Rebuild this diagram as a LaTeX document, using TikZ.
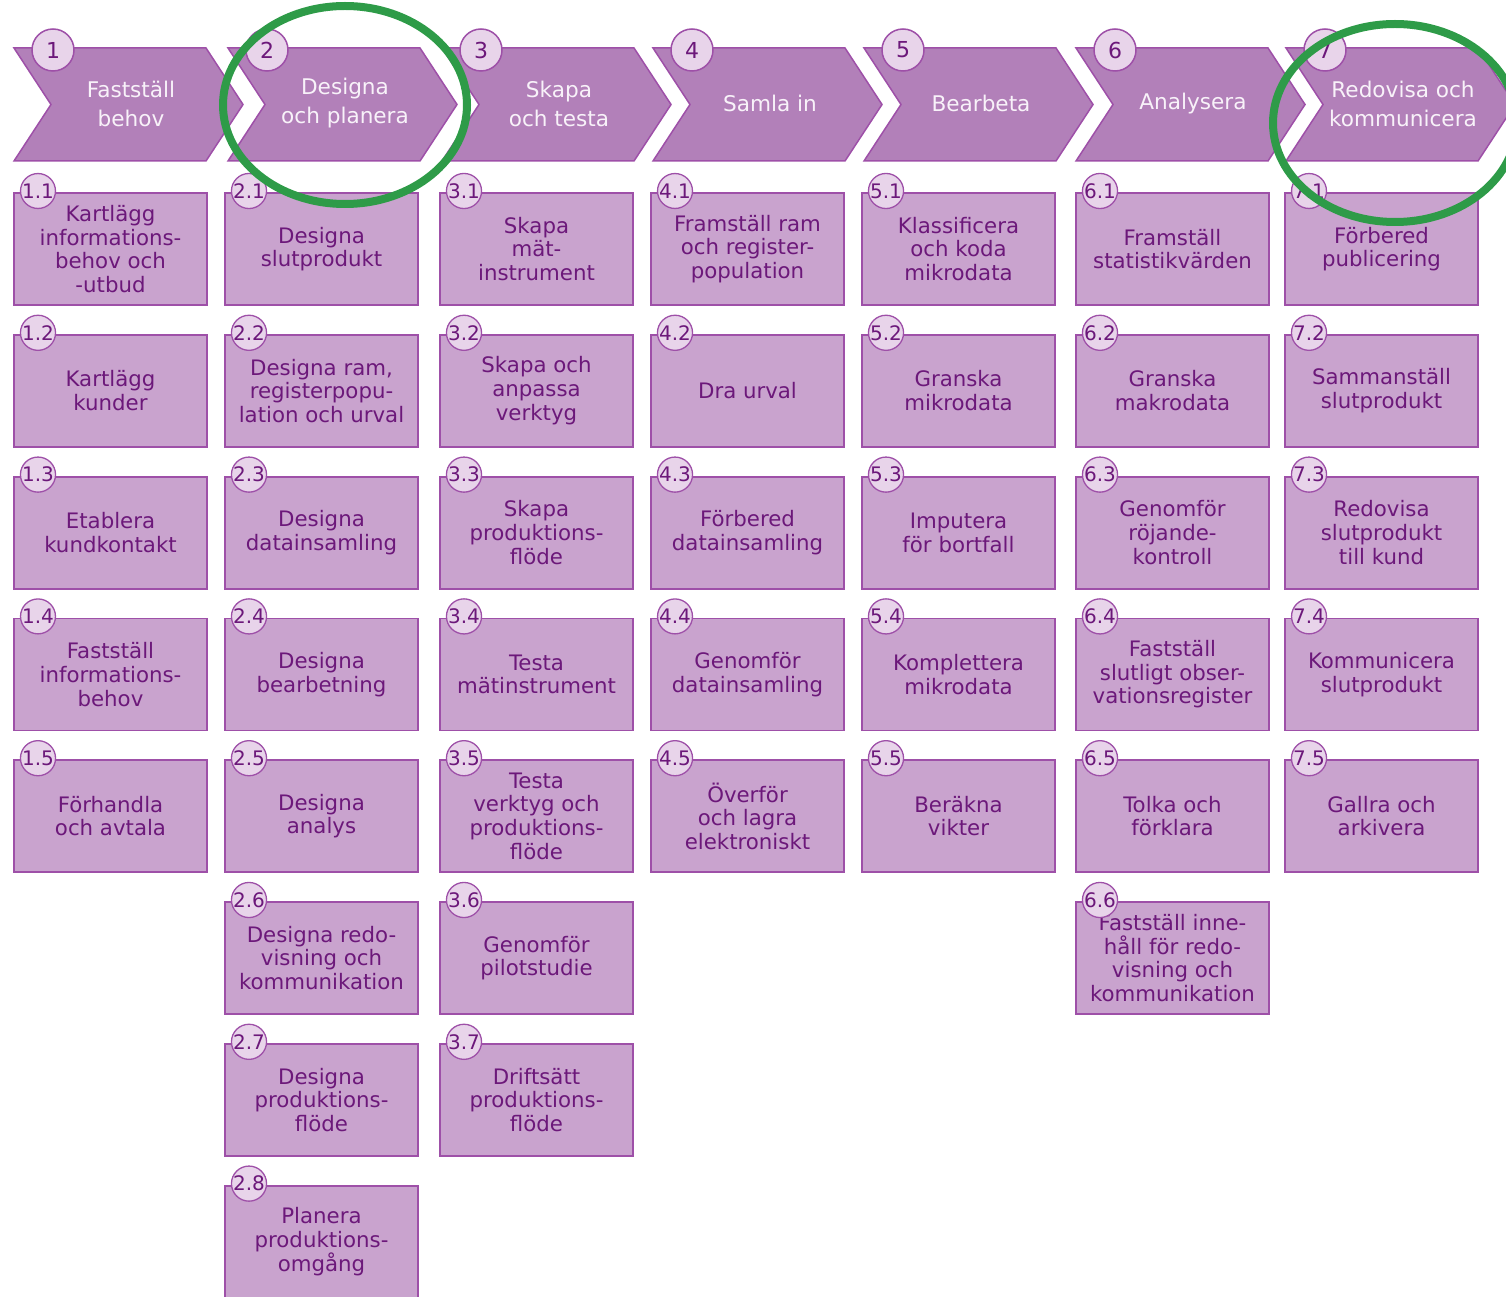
\documentclass[tikz,border=0pt]{standalone}
\usepackage{fontspec}
\setmainfont{DejaVu Sans}
\definecolor{chev}{RGB}{178,128,185}
\definecolor{boxf}{RGB}{201,163,206}
\definecolor{edgec}{RGB}{158,80,168}
\definecolor{txt}{RGB}{108,24,122}
\definecolor{circf}{RGB}{232,212,234}
\definecolor{chevtxt}{RGB}{248,242,249}
\definecolor{grn}{RGB}{46,155,72}
\tikzset{
  chevstyle/.style={fill=chev, draw=edgec, line width=1.5pt, line join=miter},
  chevtext/.style={text=chevtxt, align=center, font=\fontsize{21.6}{29}\selectfont},
  taskbox/.style={fill=boxf, draw=edgec, line width=1.8pt, minimum width=193pt, minimum height=112pt, inner sep=0pt, align=center, text=txt, font=\fontsize{21.3}{23.7}\selectfont},
  numc/.style={circle, fill=circf, draw=edgec, line width=1.5pt, minimum size=42pt, inner sep=0pt, text=txt, font=\fontsize{22}{22}\selectfont},
  subc/.style={circle, fill=circf, draw=edgec, line width=1.3pt, minimum size=34pt, inner sep=0pt, text=txt, font=\fontsize{20}{20}\selectfont},
  hilite/.style={draw=grn, line width=8pt}
}
\newcommand\mkchev[4]{%
  \draw[chevstyle] (#1,48) -- ++(192,0) -- ++(37,56.5) -- ++(-37,56.5) -- ++(-192,0) -- ++(37,-56.5) -- cycle;
  \node[chevtext] (t#2) at ({#1+117},103.5) {#4};
  \node[numc] (n#2) at ({#1+39},50) {#3};}
\newcommand\mkbox[5]{%
  \node[taskbox] (b#3) at ({#1+96.5},{193+141.8*#2+56}) {#5};
  \node[subc] (c#3) at ({#1+24},{193+141.8*#2-2}) {#4};}
\begin{document}
\begin{tikzpicture}[x=1pt,y=-1pt]
\useasboundingbox (0,0) rectangle (1506,1297);
\clip (0,0) rectangle (1506,1297);
% chevrons
\mkchev{14}{1}{1}{Fastställ\\behov}
\mkchev{228}{2}{2}{Designa\\och planera}
\mkchev{442}{3}{3}{Skapa\\och testa}
\mkchev{653}{4}{4}{Samla in}
\mkchev{864}{5}{5}{Bearbeta}
\mkchev{1076}{6}{6}{Analysera}
\mkchev{1286}{7}{7}{Redovisa och\\kommunicera}
% column 1
\mkbox{14}{0}{11}{1.1}{Kartlägg\\informations-\\behov och\\-utbud}
\mkbox{14}{1}{12}{1.2}{Kartlägg\\kunder}
\mkbox{14}{2}{13}{1.3}{Etablera\\kundkontakt}
\mkbox{14}{3}{14}{1.4}{Fastställ\\informations-\\behov}
\mkbox{14}{4}{15}{1.5}{Förhandla\\och avtala}
% column 2
\mkbox{225}{0}{21}{2.1}{Designa\\slutprodukt}
\mkbox{225}{1}{22}{2.2}{Designa ram,\\registerpopu-\\lation och urval}
\mkbox{225}{2}{23}{2.3}{Designa\\datainsamling}
\mkbox{225}{3}{24}{2.4}{Designa\\bearbetning}
\mkbox{225}{4}{25}{2.5}{Designa\\analys}
\mkbox{225}{5}{26}{2.6}{Designa redo-\\visning och\\kommunikation}
\mkbox{225}{6}{27}{2.7}{Designa\\produktions-\\flöde}
\mkbox{225}{7}{28}{2.8}{Planera\\produktions-\\omgång}
% column 3
\mkbox{440}{0}{31}{3.1}{Skapa\\mät-\\instrument}
\mkbox{440}{1}{32}{3.2}{Skapa och\\anpassa\\verktyg}
\mkbox{440}{2}{33}{3.3}{Skapa\\produktions-\\flöde}
\mkbox{440}{3}{34}{3.4}{Testa\\mätinstrument}
\mkbox{440}{4}{35}{3.5}{Testa\\verktyg och\\produktions-\\flöde}
\mkbox{440}{5}{36}{3.6}{Genomför\\pilotstudie}
\mkbox{440}{6}{37}{3.7}{Driftsätt\\produktions-\\flöde}
% column 4
\mkbox{651}{0}{41}{4.1}{Framställ ram\\och register-\\population}
\mkbox{651}{1}{42}{4.2}{Dra urval}
\mkbox{651}{2}{43}{4.3}{Förbered\\datainsamling}
\mkbox{651}{3}{44}{4.4}{Genomför\\datainsamling}
\mkbox{651}{4}{45}{4.5}{Överför\\och lagra\\elektroniskt}
% column 5
\mkbox{862}{0}{51}{5.1}{Klassificera\\och koda\\mikrodata}
\mkbox{862}{1}{52}{5.2}{Granska\\mikrodata}
\mkbox{862}{2}{53}{5.3}{Imputera\\för bortfall}
\mkbox{862}{3}{54}{5.4}{Komplettera\\mikrodata}
\mkbox{862}{4}{55}{5.5}{Beräkna\\vikter}
% column 6
\mkbox{1076}{0}{61}{6.1}{Framställ\\statistikvärden}
\mkbox{1076}{1}{62}{6.2}{Granska\\makrodata}
\mkbox{1076}{2}{63}{6.3}{Genomför\\röjande-\\kontroll}
\mkbox{1076}{3}{64}{6.4}{Fastställ\\slutligt obser-\\vationsregister}
\mkbox{1076}{4}{65}{6.5}{Tolka och\\förklara}
\mkbox{1076}{5}{66}{6.6}{Fastställ inne-\\håll för redo-\\visning och\\kommunikation}
% column 7
\mkbox{1285}{0}{71}{7.1}{Förbered\\publicering}
\mkbox{1285}{1}{72}{7.2}{Sammanställ\\slutprodukt}
\mkbox{1285}{2}{73}{7.3}{Redovisa\\slutprodukt\\till kund}
\mkbox{1285}{3}{74}{7.4}{Kommunicera\\slutprodukt}
\mkbox{1285}{4}{75}{7.5}{Gallra och\\arkivera}
% highlights
\draw[hilite] (345,105) ellipse [x radius=122pt, y radius=99pt];
\draw[hilite] (1395,123) ellipse [x radius=122pt, y radius=99pt];
\end{tikzpicture}
\end{document}
